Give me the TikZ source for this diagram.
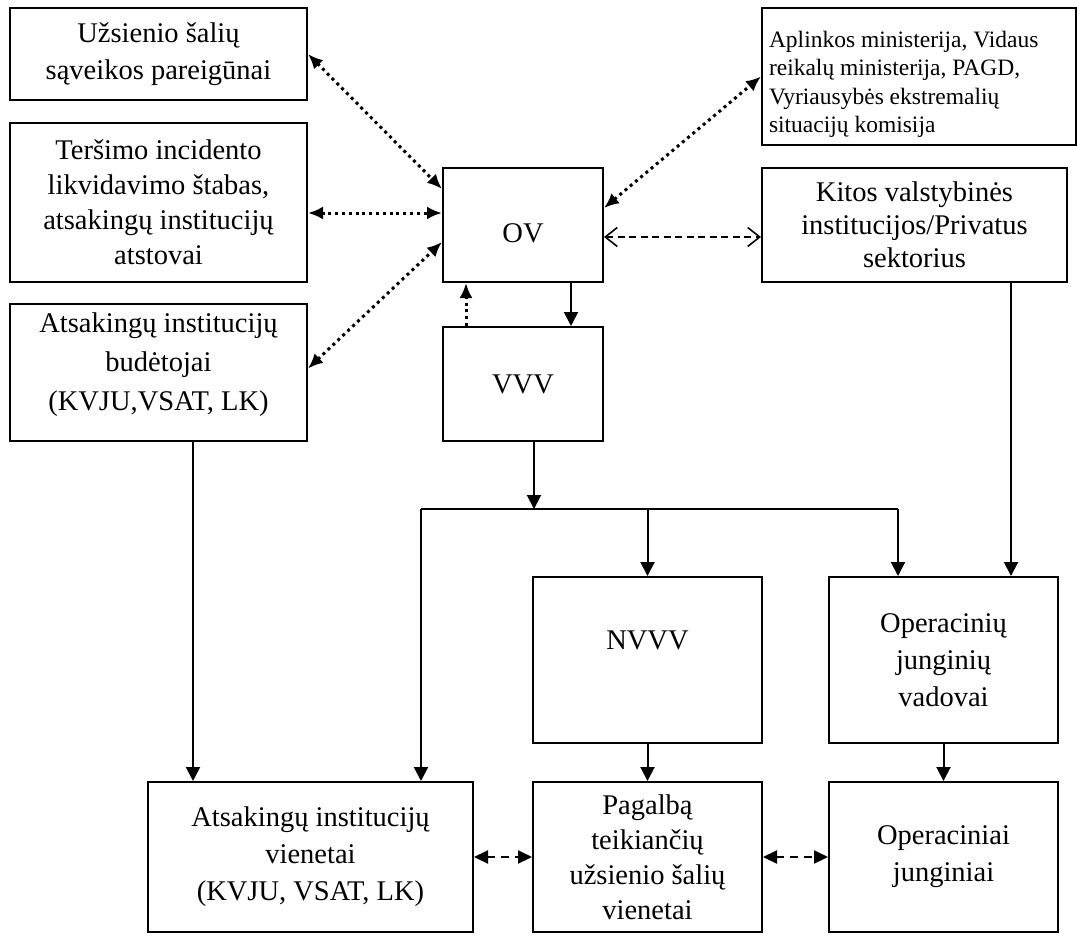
\documentclass[tikz,border=0pt]{standalone}
\usepackage{fontspec}
\setmainfont{Liberation Serif}
\usetikzlibrary{arrows.meta,calc}

\newcommand{\liftbox}[2]{\raisebox{#1}[\height][\depth]{#2}}

\begin{document}
\begin{tikzpicture}[x=1pt, y=-1pt,
    box/.style={draw, line width=2pt, align=center, inner sep=2pt, font=\fontsize{28.5}{37}\selectfont},
    link/.style={line width=2pt},
    solidarrow/.style={link, -{Triangle[length=14pt,width=14pt]}},
    dotline/.style={line width=3pt, dash pattern=on 3pt off 3.8pt},
    dotboth/.style={dotline, {Latex[length=15pt,width=13pt]}-{Latex[length=15pt,width=13pt]}},
    dotone/.style={dotline, -{Latex[length=15pt,width=13pt]}},
    openboth/.style={line width=1.6pt, dash pattern=on 7pt off 4.5pt, {Straight Barb[length=12pt,width=19pt,line width=1.6pt]}-{Straight Barb[length=12pt,width=19pt,line width=1.6pt]}},
    fillboth/.style={line width=2.2pt, dash pattern=on 8pt off 6pt, {Triangle[length=14pt,width=13pt]}-{Triangle[length=14pt,width=13pt]}}]
    \useasboundingbox (0,0) rectangle (1077,940);
    % left column
    \node[box, minimum width=297pt, minimum height=92pt] (uzs) at (158.5,54) {Užsienio šalių\\sąveikos pareigūnai};
    \node[box, minimum width=297pt, minimum height=159pt, font=\fontsize{28.5}{35}\selectfont] (ters) at (158.5,202.5) {Teršimo incidento\\likvidavimo štabas,\\atsakingų institucijų\\atstovai};
    \node[box, minimum width=297pt, minimum height=137pt, font=\fontsize{28.5}{39}\selectfont] (bud) at (158.5,372.5) {\liftbox{8pt}{\parbox{290pt}{\centering Atsakingų institucijų\\budėtojai\\(KVJU,VSAT, LK)}}};
    % centre
    \node[box, minimum width=160pt, minimum height=114pt] (ov) at (523,225) {\liftbox{-8pt}{OV}};
    \node[box, minimum width=160pt, minimum height=114pt] (vvv) at (523,384) {VVV};
    % right column
    \node[box, minimum width=314pt, minimum height=137pt, font=\fontsize{23.5}{28.5}\selectfont] (apl) at (919,76.5) {\liftbox{-8pt}{\parbox{300pt}{\raggedright Aplinkos ministerija, Vidaus\\reikalų ministerija, PAGD,\\Vyriausybės ekstremalių\\situacijų komisija}}};
    \node[box, minimum width=305pt, minimum height=114pt, font=\fontsize{28.5}{33}\selectfont] (kitos) at (914.5,225) {Kitos valstybinės\\institucijos/Privatus\\sektorius};
    % lower rows
    \node[box, minimum width=229pt, minimum height=166pt] (nvvv) at (647.5,660) {\liftbox{20pt}{NVVV}};
    \node[box, minimum width=229pt, minimum height=166pt] (opv) at (943.5,660) {Operacinių\\junginių\\vadovai};
    \node[box, minimum width=325pt, minimum height=150pt] (atv) at (310.5,857) {Atsakingų institucijų\\vienetai\\(KVJU, VSAT, LK)};
    \node[box, minimum width=229pt, minimum height=150pt, font=\fontsize{28.5}{35}\selectfont] (pag) at (647.5,857) {Pagalbą\\teikiančių\\užsienio šalių\\vienetai};
    \node[box, minimum width=229pt, minimum height=150pt] (opj) at (943.5,857) {Operaciniai\\junginiai};

    % two-way links round OV
    \draw[dotboth] (uzs.east) -- ($(ov.north west)+(0,22)$);
    \draw[dotboth] (ters.east |- 0,213) -- (ov.west |- 0,213);
    \draw[dotboth] ($(bud.east)+(0,-4)$) -- ($(ov.west)+(0,17)$);
    \draw[dotboth] ($(ov.east)+(0,-17)$) -- (apl.west);
    \draw[openboth] ($(ov.east)+(0,12)$) -- ($(kitos.west)+(0,12)$);
    \draw[dotone] (vvv.north -| 466,0) -- (ov.south -| 466,0);
    \draw[solidarrow] (ov.south -| 571,0) -- (vvv.north -| 571,0);

    % distribution bus
    \coordinate (split) at (534,509);
    \coordinate (bus west) at (421,509);
    \coordinate (bus east) at (898,509);
    \draw[solidarrow] (vvv.south -| split) -- (split);
    \draw[link] (bus west) -- (bus east);
    \draw[solidarrow] (bus west) -- (atv.north -| bus west);
    \draw[solidarrow] (split -| nvvv.north) -- (nvvv.north);
    \draw[solidarrow] (bus east) -- (opv.north -| bus east);
    \draw[solidarrow] (kitos.south -| 1011,0) -- (opv.north -| 1011,0);
    \draw[solidarrow] (bud.south -| 193,0) -- (atv.north -| 193,0);
    \draw[solidarrow] (nvvv) -- (pag);
    \draw[solidarrow] (opv) -- (opj);

    % bottom row links
    \draw[fillboth] (atv) -- (pag);
    \draw[fillboth] (pag) -- (opj);
\end{tikzpicture}
\end{document}
